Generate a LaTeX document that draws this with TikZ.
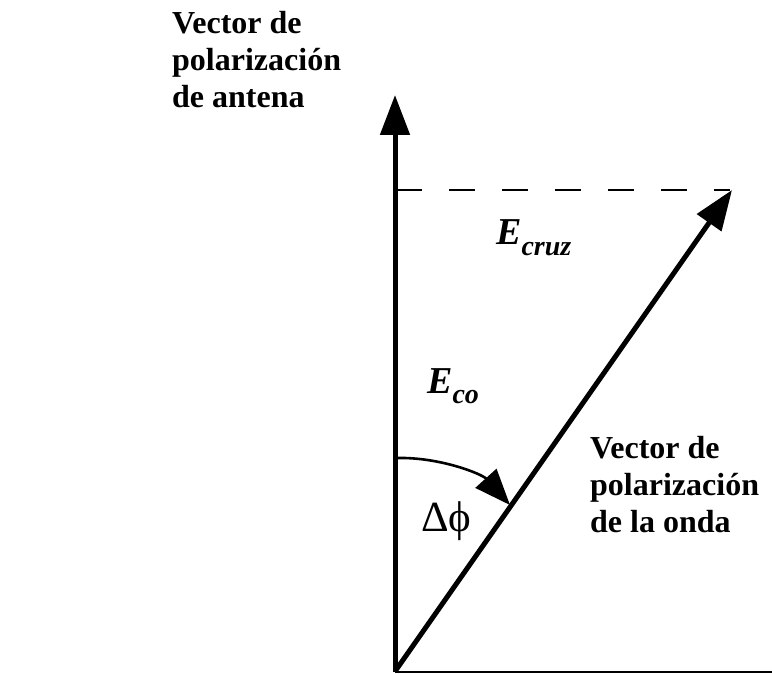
\documentclass[tikz,border=0pt]{standalone}
\usepackage{fontspec}
\setmainfont{Liberation Serif}
\usetikzlibrary{arrows.meta}
\tikzset{
  vec/.style={line width=5pt, -{Triangle[length=40pt,width=29pt]}},
  arcvec/.style={line width=2.6pt, -{Triangle[length=36pt,width=28pt]}},
  dashline/.style={line width=2.5pt, dash pattern=on 26pt off 27pt},
  base/.style={line width=2pt},
  biglabel/.style={inner sep=0pt, align=left, anchor=north west, font=\fontsize{32}{37}\selectfont\bfseries},
  elabel/.style={inner sep=0pt, anchor=base west, font=\fontsize{38}{42}\selectfont\bfseries\itshape},
  anglelabel/.style={inner sep=0pt, anchor=base west, font=\fontsize{43}{46}\selectfont}
}
\newcommand{\mysub}[1]{\raisebox{-10pt}{\fontsize{28}{30}\selectfont\bfseries\itshape #1}}
\begin{document}
\begin{tikzpicture}[x=1pt,y=-1pt]
\useasboundingbox (0,0) rectangle (772,674);
\coordinate (O) at (396,670);
\coordinate (Vtip) at (395,95);
\coordinate (Dtip) at (732,190);
\coordinate (Dleft) at (396,190);
\coordinate (Dright) at (730,190);
\coordinate (Bright) at (772,672);
\coordinate (Astart) at (397,458);
\coordinate (Aend) at (510,505);

\draw[base] (395,672) -- (Bright);
\draw[dashline] (Dleft) -- (Dright);
\draw[vec] (395,672) -- (Vtip);
\draw[vec] (O) -- (Dtip);
\draw[arcvec] (Astart) .. controls (440,457) and (482,474) .. (Aend);

\node[biglabel] (ant) at (172,11) {Vector de\\polarización\\de antena};
\node[biglabel] (onda) at (590,436) {Vector de\\polarización\\de la onda};
\node[elabel] (ecruz) at (496,245) {E\mysub{cruz}};
\node[elabel] (eco) at (427,393) {E\mysub{co}};
\node[anglelabel] (dphi) at (421,531) {Δϕ};
\end{tikzpicture}
\end{document}
